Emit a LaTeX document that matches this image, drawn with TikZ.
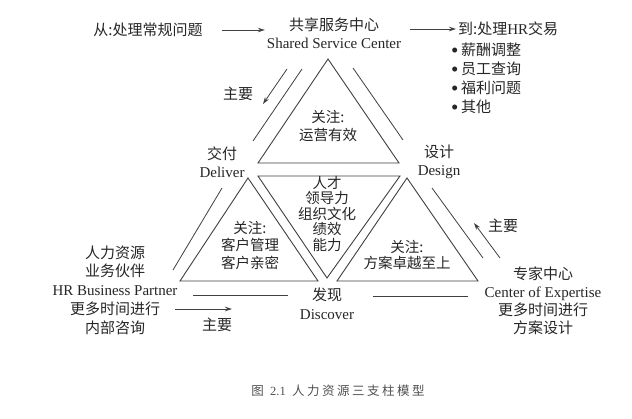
\documentclass[tikz,border=0pt]{standalone}
\usepackage{fontspec}
\setmainfont{Liberation Serif}
\newfontfamily\cjk{Noto Sans CJK SC}
\newfontfamily\cjkcap[LetterSpace=20]{Noto Sans CJK SC}
\usepackage{xcolor}
\usetikzlibrary{arrows.meta}
\definecolor{linecolor}{HTML}{404040}
\definecolor{textcolor}{HTML}{262626}
\newcommand{\zh}[1]{{\cjk #1}}
\newcommand{\bigdot}{\raisebox{-2pt}{\fontsize{21}{18}\selectfont\textbullet}}
\tikzset{
  >=Stealth,
  tri edge/.style={
    draw=linecolor,
    line width=0.9pt,
    line join=miter
  },
  side line/.style={
    draw=linecolor,
    line width=0.8pt
  },
  flow/.style={
    draw=linecolor,
    line width=0.8pt,
    -{Stealth[length=7pt,width=4.5pt]}
  },
  label text/.style={
    font=\fontsize{15}{18.5}\selectfont,
    text=textcolor,
    inner sep=1pt,
    align=center
  },
  pillar text/.style={
    font=\fontsize{14.5}{17.5}\selectfont,
    text=textcolor,
    inner sep=1pt,
    align=center
  },
  caption text/.style={
    font=\fontsize{12.5}{15}\selectfont,
    text=textcolor!80,
    inner sep=1pt
  }
}
\newcommand{\pillar}[3]{%
  \draw[tri edge] #1 -- #2 -- #3 -- cycle;
}

\begin{document}
\begin{tikzpicture}[x=1pt,y=-1pt]
  \fill[white] (0,0) rectangle (632,419);

  % the four triangles
  \pillar{(328,59)}{(258,163)}{(399,163)}
  \pillar{(258,176)}{(400,176)}{(327,278)}
  \pillar{(248,178)}{(180,281)}{(318,281)}
  \pillar{(407,178)}{(337,281)}{(478,281)}

  % outer sides
  \draw[side line] (302,69) -- (253,141);
  \draw[side line] (353,68) -- (403,140);
  \draw[side line] (222,188) -- (173,270);
  \draw[side line] (432,188) -- (483,258);
  \draw[side line] (193,295) -- (288,295);
  \draw[side line] (373,296) -- (468,296);

  % top line of text
  \node[label text] (from) at (148,30) {\zh{从:处理常规问题}};
  \node[label text] (ssc) at (334,25) {\zh{共享服务中心}};
  \node[label text] (ssc-en) at (334,43) {Shared Service Center};
  \node[label text,anchor=west] (to) at (457,29) {\zh{到:处理}HR\zh{交易}};
  \foreach \t [count=\k] in {薪酬调整,员工查询,福利问题,其他}
    \node[label text,anchor=west] (item-\k) at (450,31+19*\k) {\bigdot\,\zh{\t}};

  \draw[flow,shorten <=18pt,shorten >=23pt] (from.east) -- (from.east -| ssc.west);
  \draw[flow,shorten <=30pt,shorten >=1pt] (ssc.east |- to.west) -- (to.west);

  % corners
  \node[label text] (deliver) at (222,162) {\zh{交付}\\Deliver};
  \node[label text] (design) at (439,162) {\zh{设计}\\Design};
  \node[label text] (discover) at (327,303.5) {\zh{发现}\\Discover};

  % inside the triangles
  \node[pillar text] (ssc-focus) at (328,126) {\zh{关注:}\\\zh{运营有效}};
  \node[pillar text,font=\fontsize{14.5}{15.5}\selectfont] (core) at (327,214)
    {\zh{人才}\\\zh{领导力}\\\zh{组织文化}\\\zh{绩效}\\\zh{能力}};
  \node[pillar text] (hrbp-focus) at (250,245.5) {\zh{关注:}\\\zh{客户管理}\\\zh{客户亲密}};
  \node[pillar text,font=\fontsize{14.5}{16.5}\selectfont] (coe-focus) at (407,255)
    {\zh{关注:}\\\zh{方案卓越至上}};

  % the two other pillars
  \node[label text,font=\fontsize{15}{18.75}\selectfont] (hrbp) at (115,290)
    {\zh{人力资源}\\\zh{业务伙伴}\\HR Business Partner\\\zh{更多时间进行}\\\zh{内部咨询}};
  \node[label text,font=\fontsize{15}{18}\selectfont] (coe) at (543,301)
    {\zh{专家中心}\\Center of Expertise\\\zh{更多时间进行}\\\zh{方案设计}};

  % main flows
  \coordinate (deliver-tail) at (287,69);
  \coordinate (deliver-head) at (263,104);
  \coordinate (design-tail) at (500,258);
  \coordinate (design-head) at (474,223);
  \coordinate (discover-tail) at (175,309);
  \coordinate (discover-head) at (232,309);
  \draw[flow] (deliver-tail) -- (deliver-head);
  \draw[flow] (design-tail) -- (design-head);
  \draw[flow] (discover-tail) -- (discover-head);
  \node[label text] (deliver-main) at (238,94) {\zh{主要}};
  \node[label text] (design-main) at (503,226) {\zh{主要}};
  \node[label text] (discover-main) at (217,325) {\zh{主要}};

  \node[caption text] (caption) at (338,391) {{\cjkcap 图}\ \ 2.1\ \ {\cjkcap 人力资源三支柱模型}};
\end{tikzpicture}
\end{document}
